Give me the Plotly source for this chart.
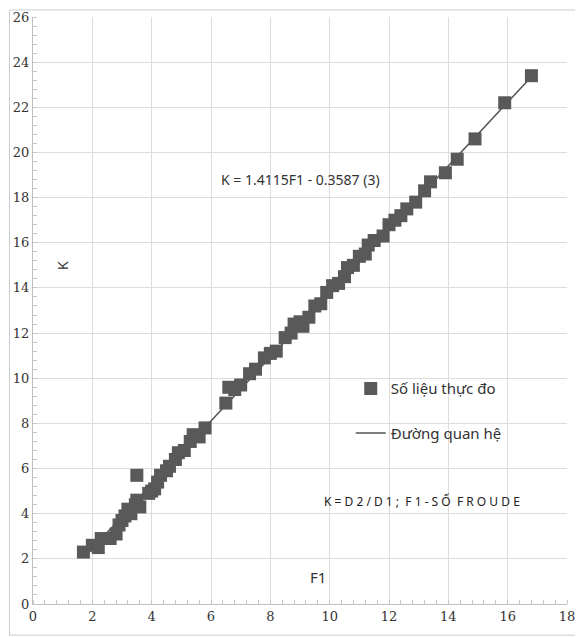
import plotly.graph_objects as go

# Measured data (F1, K)
f1_obs = [1.7, 2.0, 2.2, 2.3, 2.6, 2.8, 2.9, 3.0, 3.1, 3.2, 3.3, 3.45, 3.5, 3.5, 3.6,
          3.9, 4.0, 4.1, 4.2, 4.3, 4.5, 4.6, 4.8, 4.9, 5.1, 5.3, 5.4, 5.6, 5.8,
          6.5, 6.6, 6.8, 7.0, 7.3, 7.5, 7.8, 8.0, 8.2, 8.5, 8.7, 8.8, 9.0, 9.1, 9.3,
          9.5, 9.7, 9.9, 10.1, 10.3, 10.5, 10.6, 10.8, 11.0, 11.2, 11.3, 11.5, 11.8,
          12.0, 12.2, 12.4, 12.6, 12.9, 13.2, 13.4, 13.9, 14.3, 14.9, 15.9, 16.8]
k_obs = [2.3, 2.6, 2.5, 2.9, 2.9, 3.1, 3.5, 3.7, 3.9, 4.2, 4.0, 4.4, 4.6, 5.7, 4.3,
         4.9, 5.0, 5.1, 5.4, 5.7, 5.9, 6.1, 6.4, 6.7, 6.8, 7.2, 7.5, 7.4, 7.8,
         8.9, 9.6, 9.5, 9.7, 10.2, 10.4, 10.9, 11.1, 11.2, 11.8, 12.0, 12.4, 12.5, 12.3, 12.7,
         13.2, 13.3, 13.8, 14.1, 14.2, 14.5, 14.9, 15.0, 15.4, 15.5, 15.9, 16.1, 16.3,
         16.8, 17.0, 17.2, 17.5, 17.8, 18.3, 18.7, 19.1, 19.7, 20.6, 22.2, 23.4]

# Fitted relation K = 1.4115 F1 - 0.3587
slope = 1.4115
intercept = -0.3587
f1_line = [1.7, 16.8]
k_line = [slope * f + intercept for f in f1_line]

x_ticks = list(range(0, 19, 2))
y_ticks = list(range(0, 27, 2))

fig = go.Figure()
fig.add_trace(go.Scatter(
    x=f1_line, y=k_line, mode="lines", name="Đường quan hệ",
    line=dict(color="#555555", width=1.5), legendgroup="b", legendrank=2))
fig.add_trace(go.Scatter(
    x=f1_obs, y=k_obs, mode="markers", name="Số liệu thực đo",
    marker=dict(symbol="square", size=13, color="#595959"),
    legendgroup="a", legendrank=1))

axis_common = dict(
    showgrid=True, gridcolor="#dcdcdc", gridwidth=1,
    zeroline=False, showline=True, linecolor="#bfbfbf", linewidth=1,
    ticks="", automargin=False,
    tickfont=dict(family="DejaVu Serif", size=13, color="#333333"),
    minor=dict(dtick=0.4, ticks="inside", ticklen=4, tickcolor="#c8c8c8", showgrid=False),
)

fig.update_xaxes(range=[0, 18], tickvals=x_ticks, **axis_common)
fig.update_yaxes(range=[0, 26], tickvals=y_ticks, **axis_common)

fig.add_annotation(x=9.0, y=18.8, text="K = 1.4115F1 - 0.3587 (3)", showarrow=False,
                   font=dict(family="Noto Sans", size=14, color="#333333"))
fig.add_annotation(x=1.0, y=15.0, text="K", showarrow=False, textangle=-90,
                   font=dict(family="Noto Sans", size=14, color="#333333"))
fig.add_annotation(x=9.6, y=1.2, text="F1", showarrow=False,
                   font=dict(family="Noto Sans", size=15, color="#333333"))
fig.add_annotation(x=13.1, y=4.55, text="K = D 2 / D 1 ;  F 1 - S Ố  F R O U D E", showarrow=False,
                   font=dict(family="Noto Sans", size=12, color="#222222"))

# The page body has an 8px default margin, so the figure is sized to fit inside the window.
fig.update_layout(
    width=575, height=629,
    margin=dict(l=25, r=16, t=9, b=33),
    paper_bgcolor="white", plot_bgcolor="white",
    showlegend=True,
    legend=dict(x=0.595, y=0.395, xanchor="left", yanchor="top",
                bgcolor="rgba(0,0,0,0)", tracegroupgap=22,
                font=dict(family="Noto Sans", size=15, color="#333333"),
                traceorder="grouped"),
    shapes=[dict(type="rect", xref="paper", yref="paper", x0=-0.044, x1=1.024, y0=-0.053, y1=1.012,
                 line=dict(color="#cccccc", width=1))],
)

fig.write_html("out.html")
